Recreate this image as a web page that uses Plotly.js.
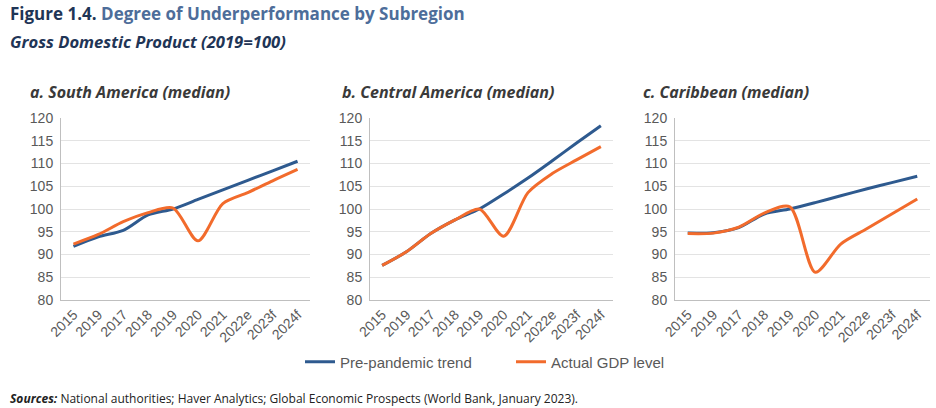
<!DOCTYPE html>
<html>
<head>
<meta charset="utf-8">
<script src="https://cdn.plot.ly/plotly-3.0.1.min.js"></script>
<style>html,body{margin:0;padding:0;background:#fff;}#chart{width:936px;height:408px;}</style>
</head>
<body>
<div id="chart"></div>
<script>
// ---- Data ----
const xLabels = ['2015','2019','2017','2018','2019','2020','2021','2022e','2023f','2024f'];
const panelTitles = ['a. South America (median)', 'b. Central America (median)', 'c. Caribbean (median)'];
const seriesNames = ['Pre-pandemic trend', 'Actual GDP level'];

const southTrend  = [91.8, 93.9, 95.3, 98.7, 100.0, 102.1, 104.2, 106.3, 108.4, 110.5];
const southActual = [92.3, 94.4, 97.2, 99.2, 100.2, 93.0, 101.2, 103.6, 106.2, 108.7];

const centralTrend  = [87.6, 90.6, 94.6, 97.6, 100.0, 103.3, 106.8, 110.6, 114.5, 118.3];
const centralActual = [87.6, 90.6, 94.6, 97.6, 100.0, 94.0, 103.6, 107.8, 110.8, 113.7];

const caribTrend  = [94.7, 94.8, 95.9, 98.9, 100.0, 101.4, 102.9, 104.4, 105.8, 107.2];
const caribActual = [94.6, 94.7, 96.0, 99.1, 100.5, 86.1, 92.3, 95.6, 98.9, 102.2];

// ---- Styles ----
const BLUE = '#2e5a8f';
const ORANGE = '#f26b2c';
const SANS = 'Liberation Sans, Arial, sans-serif';
const TFONT = 'Open Sans, Lato, sans-serif';
const TICKFONT = {family: SANS, size: 14, color: '#595959'};
const xIdx = xLabels.map((_, i) => i);

const panels = [
  {trend: southTrend, actual: southActual, dom: [61/936, 310/936]},
  {trend: centralTrend, actual: centralActual, dom: [370/936, 613/936]},
  {trend: caribTrend, actual: caribActual, dom: [675/936, 930/936]}
];
const yDom = [1 - 300/408, 1 - 118/408];

const traces = [];
const layout = {
  width: 936, height: 408,
  margin: {l: 0, r: 0, t: 0, b: 0},
  paper_bgcolor: '#ffffff', plot_bgcolor: '#ffffff',
  showlegend: true,
  legend: {
    orientation: 'h', x: 300/936, xanchor: 'left', y: 1 - 362/408, yanchor: 'middle',
    font: {family: SANS, size: 15, color: '#595959'},
    entrywidth: 166, entrywidthmode: 'pixels', tracegroupgap: 0
  },
  annotations: []
};

panels.forEach((p, i) => {
  const n = i === 0 ? '' : String(i + 1);
  const xa = 'x' + n, ya = 'y' + n;
  traces.push({
    x: xIdx, y: p.trend, xaxis: xa, yaxis: ya, type: 'scatter', mode: 'lines',
    name: seriesNames[0], legendgroup: 'trend', showlegend: i === 0,
    line: {color: BLUE, width: 3, shape: 'spline', smoothing: 0.8}
  });
  traces.push({
    x: xIdx, y: p.actual, xaxis: xa, yaxis: ya, type: 'scatter', mode: 'lines',
    name: seriesNames[1], legendgroup: 'actual', showlegend: i === 0,
    line: {color: ORANGE, width: 3, shape: 'spline', smoothing: 0.8}
  });
  layout['xaxis' + n] = {
    domain: p.dom, anchor: ya, range: [-0.5, 9.5],
    tickmode: 'array', tickvals: xIdx, ticktext: xLabels, tickangle: -45,
    showgrid: false, zeroline: false, showline: true, linecolor: '#bfbfbf', linewidth: 1,
    ticks: '', tickfont: {family: SANS, size: 14, color: '#595959'},
    fixedrange: true
  };
  layout['yaxis' + n] = {
    domain: yDom, anchor: xa, range: [80, 120], dtick: 5, tick0: 80,
    showgrid: true, gridcolor: '#e3e3e3', gridwidth: 1, zeroline: false,
    showline: true, linecolor: '#bfbfbf', linewidth: 1, ticks: '',
    tickfont: TICKFONT, ticklabelstandoff: 4, fixedrange: true
  };
  layout.annotations.push({
    text: '<b><i>' + panelTitles[i] + '</i></b>',
    xref: 'paper', yref: 'paper', x: [28, 340, 641][i] / 936, y: 1 - 92/408,
    xanchor: 'left', yanchor: 'middle', showarrow: false,
    font: {family: TFONT, size: 16, color: '#3a3a3a'}
  });
});

layout.annotations.push({
  text: '<b>Figure 1.4.</b> <b><span style="color:#4d6d9a">Degree of Underperformance by Subregion</span></b>',
  xref: 'paper', yref: 'paper', x: 8/936, y: 1 - 14/408, xanchor: 'left', yanchor: 'middle',
  showarrow: false, font: {family: TFONT, size: 17, color: '#1f3556'}
});
layout.annotations.push({
  text: '<b><i>Gross Domestic Product (2019=100)</i></b>',
  xref: 'paper', yref: 'paper', x: 8/936, y: 1 - 42/408, xanchor: 'left', yanchor: 'middle',
  showarrow: false, font: {family: TFONT, size: 16.6, color: '#1f3556'}
});
layout.annotations.push({
  text: '<b><i>Sources:</i></b> National authorities; Haver Analytics; Global Economic Prospects (World Bank, January 2023).',
  xref: 'paper', yref: 'paper', x: 8/936, y: 1 - 398/408, xanchor: 'left', yanchor: 'middle',
  showarrow: false, font: {family: TFONT, size: 12, color: '#222222'}
});

Plotly.newPlot('chart', traces, layout, {displayModeBar: false, staticPlot: true});
</script>
</body>
</html>
